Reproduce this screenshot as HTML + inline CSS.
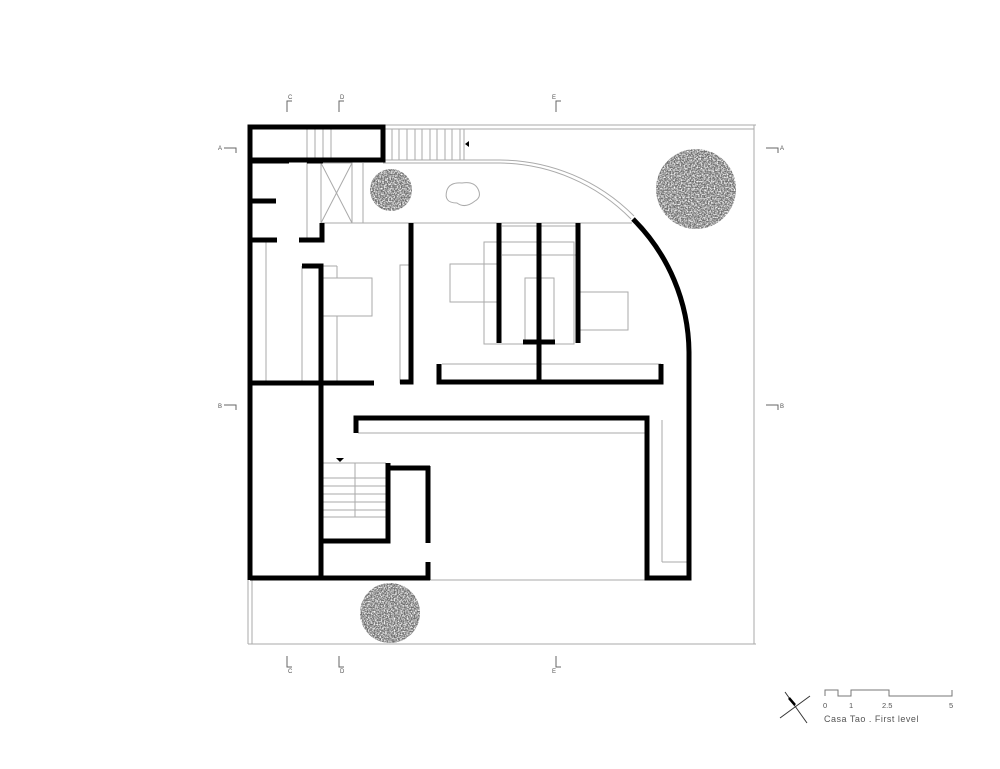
<!DOCTYPE html>
<html><head><meta charset="utf-8"><style>
html,body{margin:0;padding:0;background:#fff;}
svg{display:block;}
text{font-family:"Liberation Sans",sans-serif;fill:#555;}
</style></head><body>
<svg width="1000" height="769" viewBox="0 0 1000 769" xmlns="http://www.w3.org/2000/svg">
<defs>
<filter id="tree" x="-10%" y="-10%" width="120%" height="120%">
<feTurbulence type="fractalNoise" baseFrequency="0.7" numOctaves="2" seed="3" result="n"/>
<feColorMatrix in="n" type="matrix" values="0 0 0 0 0.15  0 0 0 0 0.15  0 0 0 0 0.15  0 0 0 -2.5 1.9" result="a"/>
<feComposite in="a" in2="SourceGraphic" operator="in"/>
</filter>
</defs>
<rect width="1000" height="769" fill="#fff"/>

<g stroke="#aaa" stroke-width="1" fill="none">
<line x1="383" y1="125" x2="756" y2="125"/>
<line x1="383" y1="129" x2="754" y2="129"/>
<line x1="754" y1="125" x2="754" y2="644"/>
<line x1="248" y1="644" x2="756" y2="644"/>
<line x1="248" y1="578" x2="248" y2="644"/>
<line x1="252" y1="578" x2="252" y2="644"/>
<line x1="383" y1="160" x2="500" y2="160"/>
<line x1="383" y1="163" x2="500" y2="163"/>
<path d="M500 160 A190 190 0 0 1 634 216"/>
<path d="M500 163 A187 187 0 0 1 631 219"/>
<line x1="322" y1="223" x2="632" y2="223"/>
<line x1="385" y1="160" x2="465" y2="160"/>
<g>
<line x1="392" y1="129" x2="392" y2="160"/><line x1="399" y1="129" x2="399" y2="160"/>
<line x1="407" y1="129" x2="407" y2="160"/><line x1="415" y1="129" x2="415" y2="160"/>
<line x1="422" y1="129" x2="422" y2="160"/><line x1="430" y1="129" x2="430" y2="160"/>
<line x1="437" y1="129" x2="437" y2="160"/><line x1="445" y1="129" x2="445" y2="160"/>
<line x1="452" y1="129" x2="452" y2="160"/><line x1="460" y1="129" x2="460" y2="160"/>
<line x1="464" y1="129" x2="464" y2="160"/>
</g>
<line x1="307" y1="129" x2="307" y2="240"/><line x1="315" y1="129" x2="315" y2="160"/>
<line x1="323" y1="129" x2="323" y2="160"/><line x1="331" y1="129" x2="331" y2="160"/>
<rect x="321" y="163" width="31" height="60"/>
<line x1="321" y1="163" x2="352" y2="223"/><line x1="352" y1="163" x2="321" y2="223"/>
<line x1="363" y1="163" x2="363" y2="223"/>
<path d="M447 190 q3 -8 15 -7 q12 -2 16 6 q4 8 -3 12 q-10 8 -18 2 q-14 0 -10 -13z"/>
<line x1="266" y1="240" x2="266" y2="383"/>
<line x1="302" y1="266" x2="302" y2="383"/>
<rect x="321" y="278" width="51" height="38"/>
<line x1="337" y1="266" x2="337" y2="278"/><line x1="337" y1="316" x2="337" y2="383"/>
<line x1="321" y1="266" x2="337" y2="266"/>
<rect x="400" y="265" width="10" height="118"/>
<rect x="484" y="242" width="90" height="102"/>
<line x1="502" y1="255" x2="578" y2="255"/>
<line x1="502" y1="223" x2="578" y2="223"/>
<line x1="502" y1="226" x2="578" y2="226"/>
<rect x="450" y="264" width="48" height="38"/>
<rect x="525" y="278" width="29" height="64"/>
<rect x="580" y="292" width="48" height="38"/>
<line x1="442" y1="364" x2="661" y2="364"/>
<line x1="358" y1="433" x2="645" y2="433"/>
<line x1="662" y1="420" x2="662" y2="562"/>
<line x1="662" y1="562" x2="687" y2="562"/>
<line x1="428" y1="580" x2="647" y2="580"/>
<line x1="323" y1="463" x2="386" y2="463"/>
<line x1="355" y1="463" x2="355" y2="517"/>
<line x1="323" y1="478" x2="386" y2="478"/><line x1="323" y1="486" x2="386" y2="486"/>
<line x1="323" y1="494" x2="386" y2="494"/><line x1="323" y1="502" x2="386" y2="502"/>
<line x1="323" y1="510" x2="386" y2="510"/><line x1="323" y1="517" x2="386" y2="517"/>
</g>

<g stroke="#000" stroke-width="5" fill="none" stroke-linecap="butt">
<rect x="250" y="127" width="133" height="33"/>
<line x1="250" y1="127" x2="250" y2="580"/>
<line x1="250" y1="161" x2="289" y2="161"/>
<line x1="307" y1="161" x2="323" y2="161"/>
<line x1="250" y1="201" x2="276" y2="201"/>
<line x1="250" y1="240" x2="277" y2="240"/>
<polyline points="299,240 322,240 322,223"/>
<polyline points="302,266 321,266 321,578"/>
<line x1="250" y1="383" x2="374" y2="383"/>
<polyline points="400,382 411,382 411,223"/>
<polyline points="439,364 439,382 661,382 661,364"/>
<line x1="539" y1="223" x2="539" y2="382"/>
<line x1="523" y1="342" x2="555" y2="342"/>
<line x1="499" y1="223" x2="499" y2="343"/>
<line x1="578" y1="223" x2="578" y2="343"/>
<path d="M633 219 A190 190 0 0 1 689 352 L689 578 L647 578 L647 418 L356 418 L356 433"/>
<line x1="250" y1="578" x2="430" y2="578"/>
<line x1="428" y1="562" x2="428" y2="580"/>
<line x1="428" y1="466" x2="428" y2="543"/>
<polyline points="388,463 388,468 430,468"/>
<polyline points="322,541 388,541 388,466"/>
</g>

<polygon points="465,144 469,141 469,147" fill="#000"/>
<polygon points="336,458 344,458 340,462" fill="#000"/>

<g filter="url(#tree)" fill="#000">
<circle cx="391" cy="190" r="21"/>
<circle cx="696" cy="189" r="40"/>
<circle cx="390" cy="613" r="30"/>
</g>

<g stroke="#666" stroke-width="1" fill="none">
<polyline points="287,112 287,101 292,101"/>
<polyline points="339,112 339,101 344,101"/>
<polyline points="556,112 556,101 561,101"/>
<polyline points="287,656 287,667 292,667"/>
<polyline points="339,656 339,667 344,667"/>
<polyline points="556,656 556,667 561,667"/>
<polyline points="224,148 236,148 236,153"/>
<polyline points="766,148 778,148 778,153"/>
<polyline points="224,405 236,405 236,410"/>
<polyline points="766,405 778,405 778,410"/>
</g>
<g font-size="6">
<text x="288" y="99">C</text><text x="340" y="99">D</text><text x="552" y="99">E</text>
<text x="288" y="673">C</text><text x="340" y="673">D</text><text x="552" y="673">E</text>
<text x="218" y="150">A</text><text x="780" y="150">A</text>
<text x="218" y="408">B</text><text x="780" y="408">B</text>
</g>

<g stroke="#333" stroke-width="1" fill="none">
<line x1="785" y1="692" x2="807" y2="723"/>
<line x1="780" y1="718" x2="810" y2="696"/>
</g>
<line x1="789" y1="698" x2="795" y2="705" stroke="#000" stroke-width="2.5"/>
<g stroke="#777" stroke-width="1" fill="none">
<polyline points="825,696 825,690 838,690 838,696 851,696 851,690 889,690 889,696 952,696 952,690"/>
</g>
<g font-size="7.5" fill="#666">
<text x="823" y="708">0</text><text x="849" y="708">1</text><text x="882" y="708">2.5</text><text x="949" y="708">5</text>
</g>
<text x="824" y="722" font-size="9" fill="#444" letter-spacing="0.5">Casa Tao  .  First level</text>
</svg>
</body></html>
